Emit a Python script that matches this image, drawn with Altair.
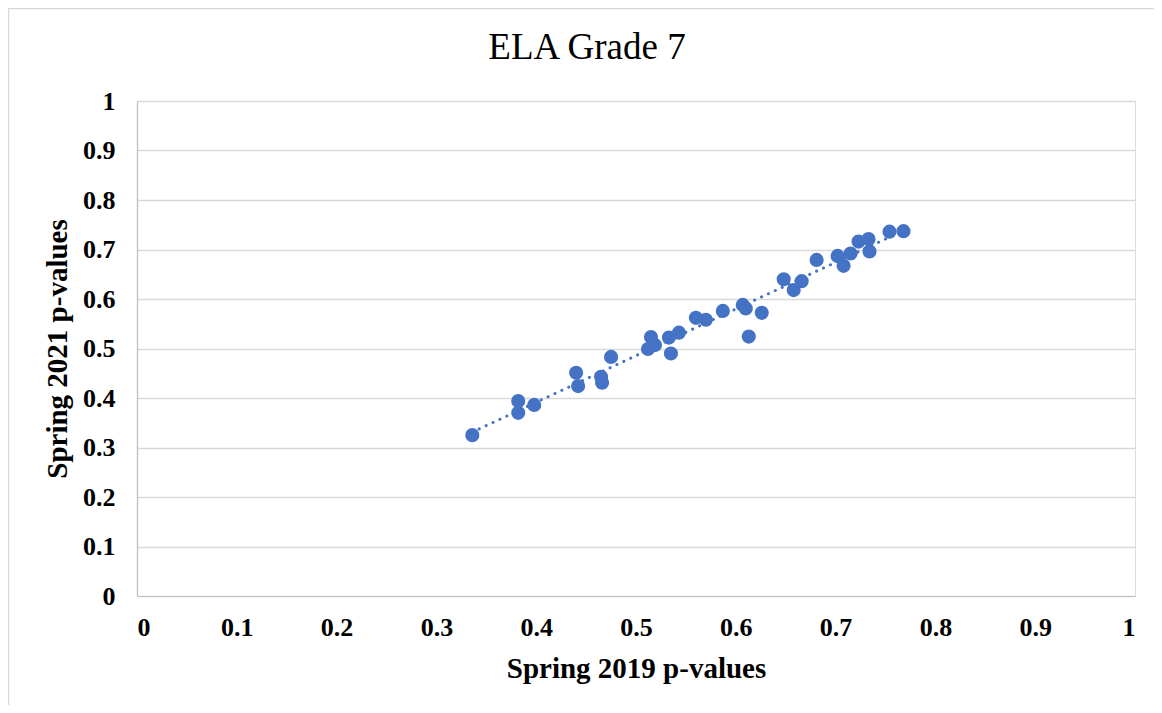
import altair as alt
import pandas as pd

x2019 = [0.336, 0.382, 0.382, 0.398, 0.440, 0.442, 0.465, 0.466, 0.475, 0.512,
         0.515, 0.519, 0.533, 0.535, 0.543, 0.560, 0.570, 0.587, 0.607, 0.610,
         0.626, 0.613, 0.648, 0.658, 0.666, 0.681, 0.702, 0.708, 0.715, 0.723,
         0.733, 0.734, 0.754, 0.768]
y2021 = [0.325, 0.394, 0.370, 0.386, 0.451, 0.424, 0.443, 0.431, 0.483, 0.499,
         0.523, 0.507, 0.522, 0.490, 0.532, 0.562, 0.558, 0.576, 0.588, 0.581,
         0.572, 0.524, 0.640, 0.618, 0.636, 0.679, 0.687, 0.667, 0.692, 0.716,
         0.721, 0.696, 0.736, 0.737]
tick_values = [0, 0.1, 0.2, 0.3, 0.4, 0.5, 0.6, 0.7, 0.8, 0.9, 1]

df = pd.DataFrame({"x": x2019, "y": y2021})

BLUE = "#4472C4"
FONT = "Liberation Serif"

xenc = alt.X("x:Q", scale=alt.Scale(domain=[0, 1], nice=False),
             axis=alt.Axis(values=tick_values, format=".1~f", grid=False,
                           ticks=False, domainColor="#BFBFBF", domainWidth=1,
                           labelFont=FONT, labelFontSize=26, labelFontWeight="bold",
                           labelColor="black", labelPadding=18,
                           title="Spring 2019 p-values", titleFont=FONT,
                           titleFontSize=29, titleFontWeight="bold", titleColor="black",
                           titleBaseline="alphabetic", titleY=81))
yenc = alt.Y("y:Q", scale=alt.Scale(domain=[0, 1], nice=False),
             axis=alt.Axis(values=tick_values, format=".1~f", grid=True,
                           gridColor="#D9D9D9", gridWidth=1.3,
                           ticks=False, domainColor="#BFBFBF", domainWidth=1.3,
                           labelFont=FONT, labelFontSize=26, labelFontWeight="bold",
                           labelColor="black", labelPadding=22,
                           title="Spring 2021 p-values", titleFont=FONT,
                           titleFontSize=29, titleFontWeight="bold", titleColor="black",
                           titleAngle=-90, titleBaseline="middle", titleAlign="center",
                           titleX=-80))

points = alt.Chart(df).mark_circle(size=200, color=BLUE, opacity=1).encode(x=xenc, y=yenc)

trend = alt.Chart(df).transform_regression("x", "y").mark_line(
    color=BLUE, strokeWidth=3, strokeDash=[0.1, 7.5], strokeCap="round"
).encode(x="x:Q", y="y:Q")

border = alt.Chart(pd.DataFrame({"a": [0]})).mark_rect(
    fill=None, stroke="#D9D9D9", strokeWidth=1.5
).encode(x=alt.value(-128.5), x2=alt.value(1100), y=alt.value(-92.5), y2=alt.value(700))

chart = alt.layer(border, trend, points).properties(
    width=998, height=495,
    autosize="none",
    padding={"left": 129, "top": 93, "right": 19, "bottom": 109},
    title=alt.TitleParams("ELA Grade 7", font=FONT, fontSize=37, fontWeight="normal",
                          color="black", anchor="middle", dx=-49, offset=20, dy=79),
).configure_view(stroke=None).configure(background="white")

chart.save("out.html", embed_options={"renderer": "svg", "actions": False})
